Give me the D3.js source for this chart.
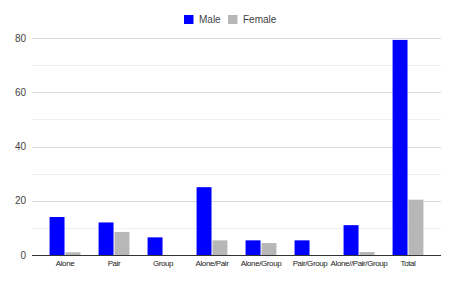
<!DOCTYPE html>
<html>
<head>
<meta charset="utf-8">
<script src="https://cdn.jsdelivr.net/npm/d3@7"></script>
<style>
  body { margin: 0; background: #fff; }
  text { font-family: Arial, "Liberation Sans", sans-serif; }
</style>
</head>
<body>
<div id="chart"></div>
<script>
const categories = ["Alone", "Pair", "Group", "Alone/Pair", "Alone/Group", "Pair/Group", "Alone//Pair/Group", "Total"];
const series = ["Male", "Female"];
const male = [14, 12, 6.5, 25, 5.4, 5.4, 11, 79.3];
const female = [1, 8.5, 0, 5.4, 4.4, 0, 1.1, 20.4];
const yTicks = [0, 20, 40, 60, 80];
const yMinor = [10, 30, 50, 70];
const colors = ["#0000ff", "#b7b7b7"];

const W = 455, H = 282;
const plot = {left: 32, right: 441, top: 38, bottom: 255};

const svg = d3.select("#chart").append("svg")
    .attr("width", W)
    .attr("height", H);

const x0 = d3.scaleBand()
    .domain(categories)
    .range([40.5, 432.5])
    .paddingInner(0.37)
    .paddingOuter(0.185);

const x1 = d3.scaleBand()
    .domain(series)
    .range([0, x0.bandwidth()])
    .paddingInner(0.06);

const y = d3.scaleLinear()
    .domain([0, 80])
    .range([plot.bottom, plot.top]);

// gridlines
svg.append("g").selectAll("line.minor")
    .data(yMinor)
    .join("line")
        .attr("x1", plot.left).attr("x2", plot.right)
        .attr("y1", d => Math.round(y(d)) + 0.5).attr("y2", d => Math.round(y(d)) + 0.5)
        .attr("stroke", "#efefef");

svg.append("g").selectAll("line.major")
    .data(yTicks.filter(d => d > 0))
    .join("line")
        .attr("x1", plot.left).attr("x2", plot.right)
        .attr("y1", d => Math.round(y(d)) + 0.5).attr("y2", d => Math.round(y(d)) + 0.5)
        .attr("stroke", "#dadada");

// y labels
svg.append("g").selectAll("text")
    .data(yTicks)
    .join("text")
        .attr("x", 26)
        .attr("y", d => y(d))
        .attr("dy", "0.35em")
        .attr("text-anchor", "end")
        .attr("font-size", "10px")
        .attr("fill", "#444")
        .text(d => d);

// bars
const rows = categories.map((c, i) => ({cat: c, vals: [male[i], female[i]]}));

const groups = svg.append("g").selectAll("g")
    .data(rows)
    .join("g")
        .attr("transform", d => `translate(${x0(d.cat)},0)`);

groups.selectAll("rect")
    .data(d => d.vals.map((v, j) => ({key: series[j], v, j})))
    .join("rect")
        .attr("x", d => x1(d.key))
        .attr("y", d => y(d.v))
        .attr("width", x1.bandwidth())
        .attr("height", d => y(0) - y(d.v))
        .attr("fill", d => colors[d.j]);

// baseline
svg.append("line")
    .attr("x1", plot.left).attr("x2", plot.right)
    .attr("y1", plot.bottom + 0.5).attr("y2", plot.bottom + 0.5)
    .attr("stroke", "#333");

// x labels
svg.append("g").selectAll("text")
    .data(categories)
    .join("text")
        .attr("x", d => x0(d) + x0.bandwidth() / 2)
        .attr("y", 263)
        .attr("dy", "0.35em")
        .attr("text-anchor", "middle")
        .attr("font-size", "8px")
        .attr("letter-spacing", "-0.4px")
        .attr("fill", "#222")
        .text(d => d);

// legend
const legendX = [184, 228];
const legend = svg.append("g").selectAll("g")
    .data(series)
    .join("g")
        .attr("transform", (d, i) => `translate(${legendX[i]},15)`);

legend.append("rect")
    .attr("width", 9.5)
    .attr("height", 9)
    .attr("fill", (d, i) => colors[i]);

legend.append("text")
    .attr("x", 15)
    .attr("y", 4.5)
    .attr("dy", "0.35em")
    .attr("font-size", "10px")
    .attr("fill", "#444")
    .text(d => d);
</script>
</body>
</html>
